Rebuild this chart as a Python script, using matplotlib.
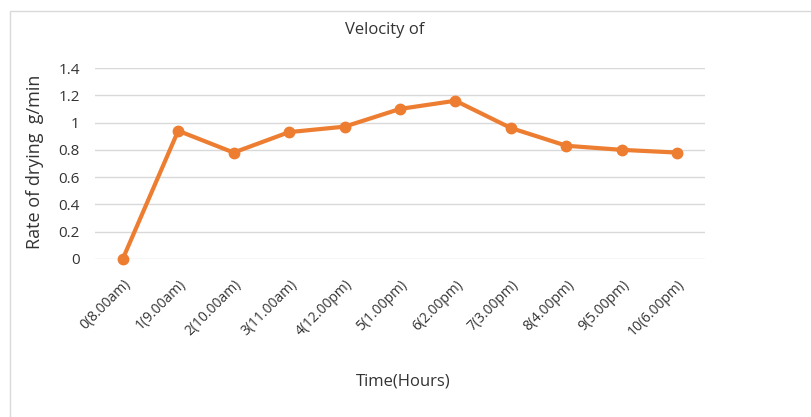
import matplotlib
matplotlib.use("Agg")
import matplotlib.pyplot as plt
from matplotlib.patches import Rectangle

categories = ["0(8.00am)", "1(9.00am)", "2(10.00am)", "3(11.00am)", "4(12.00pm)",
              "5(1.00pm)", "6(2.00pm)", "7(3.00pm)", "8(4.00pm)", "9(5.00pm)", "10(6.00pm)"]
rate = [0.0, 0.94, 0.78, 0.93, 0.97, 1.10, 1.16, 0.96, 0.83, 0.80, 0.78]
yticks = [0, 0.2, 0.4, 0.6, 0.8, 1, 1.2, 1.4]
ytick_labels = ["0", "0.2", "0.4", "0.6", "0.8", "1", "1.2", "1.4"]

plt.rcParams['font.family'] = ['Open Sans', 'DejaVu Sans']
text_color = "#333333"

fig = plt.figure(figsize=(8.12, 4.17), dpi=100)
# outer chart frame
fig.patches.append(Rectangle((10/812, -0.1), 1.0, 1 - 11/417 + 0.1, transform=fig.transFigure,
                             fill=False, edgecolor="#D9D9D9", linewidth=1.0))

ax = fig.add_axes([95/812, 1 - 259/417, 610/812, (259 - 68)/417])
x = list(range(len(categories)))
ax.plot(x, rate, color="#ED7D31", linewidth=3.0, marker="o", markersize=7.5, zorder=3, clip_on=False)
ax.set_xlim(-0.5, len(categories) - 0.5)
ax.set_ylim(0, 1.4)
ax.set_yticks(yticks)
ax.set_yticklabels(ytick_labels, fontsize=11, color=text_color)
ax.set_xticks(x)
ax.set_xticklabels(categories, rotation=45, ha="right", rotation_mode="anchor",
                   fontsize=10, color=text_color)
ax.tick_params(axis="both", length=0)
ax.tick_params(axis="x", pad=13)
ax.tick_params(axis="y", pad=11)
for s in ax.spines.values():
    s.set_visible(False)
ax.grid(axis="y", color="#D9D9D9", linewidth=1.0)
ax.set_axisbelow(True)

fig.text(385/812, 1 - 30/417, "Velocity of", ha="center", va="center", fontsize=12, color=text_color)
fig.text(35/812, 1 - 162/417, "Rate of drying  g/min", ha="center", va="center", rotation=90,
         fontsize=13, color=text_color)
fig.text(403/812, 1 - 382/417, "Time(Hours)", ha="center", va="center", fontsize=12, color=text_color)

fig.savefig("out.png", dpi=100, facecolor="white")
